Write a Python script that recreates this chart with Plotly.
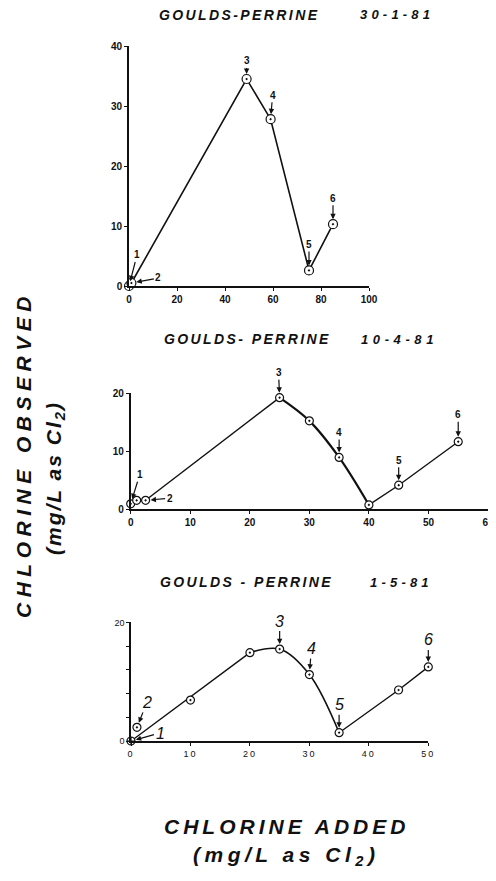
import plotly.graph_objects as go

# The page body has an 8px default margin; figure sized so it fits the 496x881 window.
OFF = 8
W, H = 496 - OFF, 881 - OFF
FONT = "Liberation Sans"

# ---------------- data ----------------
top_x = [0, 1, 49, 59, 75, 85]
top_y = [0, 0.5, 34.5, 27.8, 2.6, 10.3]
top_labels = ["1", "2", "3", "4", "5", "6"]

mid_x = [0, 1, 2.5, 25, 30, 35, 40, 45, 55]
mid_y = [0.9, 1.5, 1.5, 19.2, 15.2, 8.9, 0.7, 4.1, 11.6]
mid_label_idx = [0, 2, 3, 5, 7, 8]

bot_x = [0, 1, 10, 20, 25, 30, 35, 45, 50]
bot_y = [0, 2.3, 6.9, 14.9, 15.5, 11.2, 1.4, 8.6, 12.5]
bot_label_idx = [0, 1, 4, 5, 6, 8]

top_xticks = [0, 20, 40, 60, 80, 100]
top_yticks = [0, 10, 20, 30, 40]
mid_xticks = [0, 10, 20, 30, 40, 50, 60]
mid_yticks = [0, 10, 20]
bot_xticks = [0, 10, 20, 30, 40, 50]
bot_yticks = [0, 20]
bot_yminor = [4, 8, 12, 16]

titles = [("GOULDS-PERRINE", "30-1-81"), ("GOULDS- PERRINE", "10-4-81"), ("GOULDS - PERRINE", "1-5-81")]


def px(x):
    return (x - OFF) / W


def py(y):
    return 1 - (y - OFF) / H


def sp(text, ls):
    return f'<span style="letter-spacing:{ls}px">{text}</span>'


fig = go.Figure()
BLACK = "#111111"

# ---- lines ----
fig.add_trace(go.Scatter(x=top_x[1:], y=top_y[1:], mode="lines", line=dict(color=BLACK, width=1.6),
                         xaxis="x", yaxis="y", cliponaxis=False, showlegend=False, hoverinfo="skip"))
fig.add_trace(go.Scatter(x=mid_x[2:4], y=mid_y[2:4], mode="lines", line=dict(color=BLACK, width=1.4),
                         xaxis="x2", yaxis="y2", cliponaxis=False, showlegend=False, hoverinfo="skip"))
fig.add_trace(go.Scatter(x=mid_x[3:7], y=mid_y[3:7], mode="lines", line=dict(color=BLACK, width=2.2, shape="spline", smoothing=1.0),
                         xaxis="x2", yaxis="y2", cliponaxis=False, showlegend=False, hoverinfo="skip"))
fig.add_trace(go.Scatter(x=mid_x[6:], y=mid_y[6:], mode="lines", line=dict(color=BLACK, width=1.4),
                         xaxis="x2", yaxis="y2", cliponaxis=False, showlegend=False, hoverinfo="skip"))
fig.add_trace(go.Scatter(x=[bot_x[0], bot_x[3]], y=[bot_y[0], bot_y[3]], mode="lines", line=dict(color=BLACK, width=1.4),
                         xaxis="x3", yaxis="y3", cliponaxis=False, showlegend=False, hoverinfo="skip"))
fig.add_trace(go.Scatter(x=bot_x[3:7], y=bot_y[3:7], mode="lines", line=dict(color=BLACK, width=1.6, shape="spline", smoothing=1.0),
                         xaxis="x3", yaxis="y3", cliponaxis=False, showlegend=False, hoverinfo="skip"))
fig.add_trace(go.Scatter(x=bot_x[6:], y=bot_y[6:], mode="lines", line=dict(color=BLACK, width=1.4),
                         xaxis="x3", yaxis="y3", cliponaxis=False, showlegend=False, hoverinfo="skip"))


def markers(xs, ys, xa, ya, size, first_symbol="circle-dot"):
    syms = [first_symbol] + ["circle-dot"] * (len(xs) - 1)
    fig.add_trace(go.Scatter(x=xs, y=ys, mode="markers", xaxis=xa, yaxis=ya, cliponaxis=False,
                             marker=dict(symbol=syms, size=size, color="white", line=dict(color=BLACK, width=1.2)),
                             showlegend=False, hoverinfo="skip"))


markers(top_x, top_y, "x", "y", 9)
markers(mid_x, mid_y, "x2", "y2", 8)
markers(bot_x, bot_y, "x3", "y3", 8, first_symbol="circle-cross")


def axis_common(size, bold=True):
    return dict(showline=True, linecolor=BLACK, linewidth=1.6, ticks="outside", ticklen=3, tickwidth=1.2,
                tickcolor=BLACK, showgrid=False, zeroline=False, automargin=False,
                tickfont=dict(family=FONT, size=size, color=BLACK, weight="bold" if bold else "normal"))


lay = dict(
    xaxis=dict(domain=[px(129), px(369)], range=[0, 100], tickvals=top_xticks, anchor="y", **axis_common(10)),
    yaxis=dict(domain=[py(286), py(46)], range=[0, 40], tickvals=top_yticks, anchor="x", **axis_common(10)),
    xaxis2=dict(domain=[px(130.7), px(488)], range=[0, 60], tickvals=mid_xticks, anchor="y2", **axis_common(10)),
    yaxis2=dict(domain=[py(509), py(393)], range=[0, 20], tickvals=mid_yticks, anchor="x2", **axis_common(10)),
    xaxis3=dict(domain=[px(131), px(428.3)], range=[0, 50], tickvals=bot_xticks,
                ticktext=[sp(str(v), 2) for v in bot_xticks], anchor="y3", **axis_common(9, bold=False)),
    yaxis3=dict(domain=[py(741), py(622.4)], range=[0, 20], tickvals=bot_yticks,
                minor=dict(tickvals=bot_yminor, ticks="outside", ticklen=3, tickwidth=1.2, tickcolor=BLACK, showgrid=False),
                anchor="x3", **axis_common(9, bold=False)),
)

ann = []

title_pos = [(239, 15, 397, 4.2), (247, 339, 399, 4.6), (246, 582, 401, 4.2)]
for (name, date), (cx, cy, dx, dls) in zip(titles, title_pos):
    ann.append(dict(text="<b><i>" + sp(name, 2.4) + "</i></b>", x=px(cx), y=py(cy), xref="paper", yref="paper",
                    showarrow=False, font=dict(family=FONT, size=14, color=BLACK), xanchor="center", yanchor="middle"))
    ann.append(dict(text="<b><i>" + sp(date, dls) + "</i></b>", x=px(dx), y=py(cy), xref="paper", yref="paper",
                    showarrow=False, font=dict(family=FONT, size=13, color=BLACK), xanchor="center", yanchor="middle"))


def label(xa, ya, x, y, text, ax, ay, size, italic=False, standoff=5):
    t = f"<i>{text}</i>" if italic else f"<b>{text}</b>"
    ann.append(dict(text=t, x=x, y=y, xref=xa, yref=ya, ax=ax, ay=ay, axref="pixel", ayref="pixel",
                    showarrow=True, arrowhead=2, arrowsize=0.9, arrowwidth=1.2, arrowcolor=BLACK,
                    standoff=standoff, font=dict(family=FONT, size=size, color=BLACK)))


top_offsets = [(8, -31), (27, -5), (0, -18), (2, -24), (0, -26), (0, -26)]
for i, (ax, ay) in enumerate(top_offsets):
    label("x", "y", top_x[i], top_y[i], top_labels[i], ax, ay, 10)

mid_offsets = [(9, -29), (24, -2), (-1, -25), (0, -25), (0, -25), (0, -27)]
for n, (i, (ax, ay)) in enumerate(zip(mid_label_idx, mid_offsets)):
    label("x2", "y2", mid_x[i], mid_y[i], str(n + 1), ax, ay, 10)

bot_offsets = [(29, -8), (10, -25), (0, -28), (2, -26), (0, -28), (0, -27)]
for n, (i, (ax, ay)) in enumerate(zip(bot_label_idx, bot_offsets)):
    label("x3", "y3", bot_x[i], bot_y[i], str(n + 1), ax, ay, 16, italic=True)

big = dict(family=FONT, size=21, color=BLACK)
ann.append(dict(text="<b><i>" + sp("CHLORINE ADDED", 4) + "</i></b>", x=px(286), y=py(826), xref="paper", yref="paper",
                showarrow=False, font=big, xanchor="center", yanchor="middle"))
ann.append(dict(text="<b><i>" + sp("(mg/L as Cl<sub>2</sub>)", 4.5) + "</i></b>", x=px(286), y=py(856), xref="paper", yref="paper",
                showarrow=False, font=big, xanchor="center", yanchor="middle"))
ann.append(dict(text="<b><i>" + sp("CHLORINE OBSERVED", 5.5) + "</i></b>", x=px(24), y=py(455), xref="paper", yref="paper",
                showarrow=False, font=big, textangle=-90, xanchor="center", yanchor="middle"))
ann.append(dict(text="<b><i>" + sp("(mg/L as Cl<sub>2</sub>)", 2) + "</i></b>", x=px(55), y=py(478), xref="paper", yref="paper",
                showarrow=False, font=big, textangle=-90, xanchor="center", yanchor="middle"))

fig.update_layout(width=W, height=H, margin=dict(l=0, r=0, t=0, b=0), paper_bgcolor="white", plot_bgcolor="white",
                  annotations=ann, showlegend=False, **lay)

fig.write_html("out.html")
